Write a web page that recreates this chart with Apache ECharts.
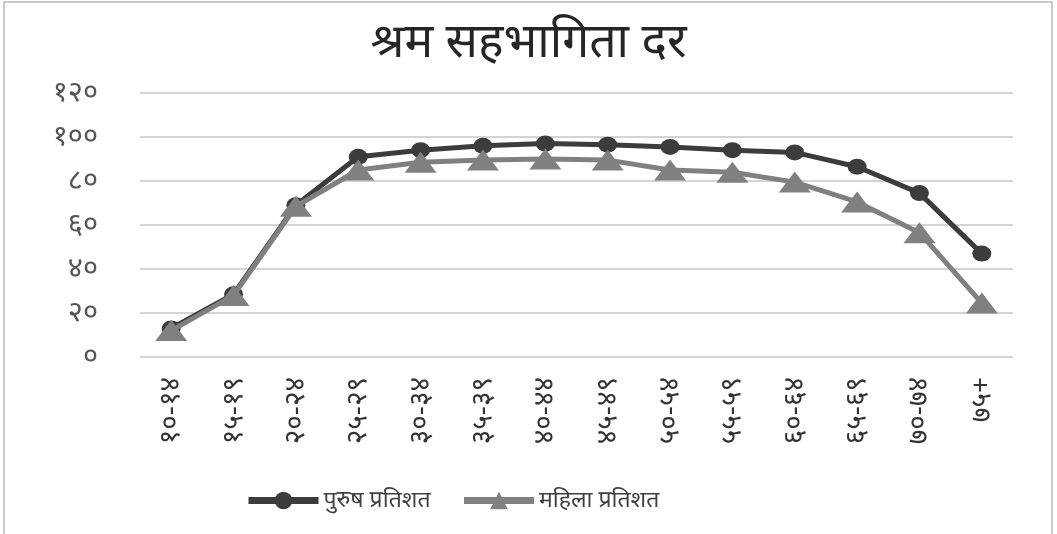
<!DOCTYPE html>
<html>
<head>
<meta charset="utf-8">
<script src="https://cdn.jsdelivr.net/npm/echarts@6/dist/echarts.min.js"></script>
<style>
  html, body { margin: 0; padding: 0; background: #fff; }
  #chart { width: 1057px; height: 534px; }
</style>
</head>
<body>
<div id="chart"></div>
<script>
// age groups (x axis)
const categories = ["१०-१४","१५-१९","२०-२४","२५-२९","३०-३४","३५-३९","४०-४४","४५-४९","५०-५४","५५-५९","६०-६४","६५-६९","७०-७४","७५+"];
// participation rate, percent
const maleValues = [13, 28.5, 69, 91, 94, 96, 97, 96.5, 95.5, 94, 93, 86.5, 74.5, 47];
const femaleValues = [12, 28, 68.5, 85, 88.5, 89.5, 90, 89.5, 85, 84, 79.5, 70.5, 56.5, 24.5];
const seriesNames = ["पुरुष प्रतिशत", "महिला प्रतिशत"];
const titleText = "श्रम सहभागिता दर";
const devDigits = ["०","१","२","३","४","५","६","७","८","९"];

function toDev(v){
  return String(v).replace(/[0-9]/g, d => devDigits[+d]);
}

const font = '"Noto Sans", "Noto Sans CJK SC", sans-serif';
const chart = echarts.init(document.getElementById("chart"));

chart.setOption({
  animation: false,
  title: {
    text: titleText,
    left: "center",
    top: 14,
    textStyle: { fontFamily: font, fontSize: 48, fontWeight: "normal", color: "#262626" }
  },
  graphic: [{
    type: "rect",
    shape: { x: 4, y: 2, width: 1048, height: 560 },
    style: { fill: "none", stroke: "#c8c8c8", lineWidth: 2 },
    silent: true
  }],
  legend: {
    left: 240,
    top: 484,
    itemWidth: 70,
    itemHeight: 22,
    itemGap: 30,
    lineStyle: { width: 7 },
    textStyle: { fontFamily: font, fontSize: 23, color: "#404040" },
    data: seriesNames
  },
  grid: { left: 140, right: 44, top: 93, bottom: 177 },
  xAxis: {
    type: "category",
    data: categories,
    boundaryGap: true,
    axisTick: { show: false },
    axisLine: { show: false },
    axisLabel: {
      rotate: 90,
      margin: 20,
      fontFamily: font,
      fontSize: 28,
      color: "#333333"
    }
  },
  yAxis: {
    type: "value",
    min: 0,
    max: 120,
    interval: 20,
    axisTick: { show: false },
    axisLine: { show: false },
    axisLabel: {
      margin: 42,
      fontFamily: font,
      fontSize: 29,
      color: "#555555",
      formatter: v => toDev(v)
    },
    splitLine: { lineStyle: { color: "#d4d4d4", width: 2 } }
  },
  series: [
    {
      name: seriesNames[0],
      type: "line",
      data: maleValues,
      symbol: "circle",
      symbolSize: [19, 16],
      itemStyle: { color: "#3c3c3c" },
      lineStyle: { color: "#3c3c3c", width: 5 },
      z: 2
    },
    {
      name: seriesNames[1],
      type: "line",
      data: femaleValues,
      symbol: "triangle",
      symbolSize: [32, 21],
      itemStyle: { color: "#808080" },
      lineStyle: { color: "#808080", width: 5 },
      z: 3
    }
  ]
});
</script>
</body>
</html>
